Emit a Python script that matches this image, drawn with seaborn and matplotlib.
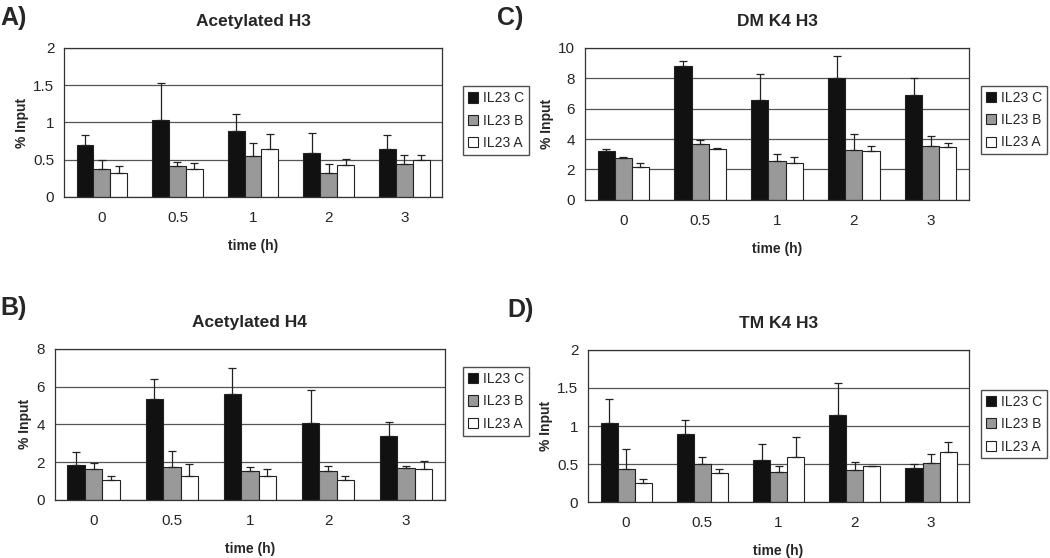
import numpy as np
import pandas as pd
import matplotlib
matplotlib.use('Agg')
import matplotlib.pyplot as plt
from matplotlib.patches import Patch
import seaborn as sns

times = ['0', '0.5', '1', '2', '3']
lines = ['IL23 C', 'IL23 B', 'IL23 A']

# mean values and top of the error bar, per cell line
h3ac_mean = {'IL23 C': [0.70, 1.03, 0.89, 0.59, 0.65],
             'IL23 B': [0.38, 0.41, 0.55, 0.32, 0.44],
             'IL23 A': [0.32, 0.37, 0.65, 0.43, 0.49]}
h3ac_top = {'IL23 C': [0.83, 1.53, 1.11, 0.86, 0.83],
            'IL23 B': [0.50, 0.47, 0.72, 0.44, 0.56],
            'IL23 A': [0.41, 0.46, 0.84, 0.51, 0.57]}

dmk4_mean = {'IL23 C': [3.20, 8.80, 6.55, 8.05, 6.90],
             'IL23 B': [2.75, 3.70, 2.55, 3.30, 3.55],
             'IL23 A': [2.15, 3.35, 2.40, 3.20, 3.50]}
dmk4_top = {'IL23 C': [3.35, 9.15, 8.30, 9.45, 8.00],
            'IL23 B': [2.82, 3.95, 3.00, 4.35, 4.20],
            'IL23 A': [2.40, 3.42, 2.85, 3.55, 3.75]}

h4ac_mean = {'IL23 C': [1.87, 5.35, 5.58, 4.06, 3.36],
             'IL23 B': [1.64, 1.77, 1.52, 1.52, 1.70],
             'IL23 A': [1.06, 1.28, 1.28, 1.05, 1.63]}
h4ac_top = {'IL23 C': [2.53, 6.41, 7.00, 5.81, 4.12],
            'IL23 B': [1.94, 2.58, 1.75, 1.82, 1.80],
            'IL23 A': [1.28, 1.88, 1.65, 1.28, 2.05]}

tmk4_mean = {'IL23 C': [1.04, 0.89, 0.55, 1.15, 0.45],
             'IL23 B': [0.44, 0.50, 0.39, 0.42, 0.51],
             'IL23 A': [0.25, 0.38, 0.59, 0.47, 0.66]}
tmk4_top = {'IL23 C': [1.36, 1.08, 0.76, 1.57, 0.50],
            'IL23 B': [0.70, 0.59, 0.47, 0.53, 0.63],
            'IL23 A': [0.31, 0.43, 0.85, 0.48, 0.79]}

colors = {'IL23 C': '#111111', 'IL23 B': '#999999', 'IL23 A': '#ffffff'}

sns.set_style('white')
plt.rcParams['font.family'] = ['Liberation Sans', 'DejaVu Sans']


def panel(fig, rect, mean, top, title, letter, ymax, ystep, yfmt, leg_xy, letter_xy):
    ax = fig.add_axes(rect)
    df = pd.DataFrame([(t, l, mean[l][i]) for l in lines for i, t in enumerate(times)],
                      columns=['time', 'line', 'value'])
    ax.set_axisbelow(True)
    sns.barplot(data=df, x='time', y='value', hue='line', order=times, hue_order=lines,
                palette=colors, edgecolor='#222222', linewidth=0.8, width=0.67,
                errorbar=None, ax=ax)
    for l, cont in zip(lines, ax.containers):
        xs = [b.get_x() + b.get_width() / 2 for b in cont]
        vals = np.array(mean[l])
        err = np.array(top[l]) - vals
        ax.errorbar(xs, vals, yerr=[np.zeros_like(err), err], fmt='none',
                    ecolor='#222222', elinewidth=0.9, capsize=3, capthick=0.9, zorder=4)
    ax.set_ylim(0, ymax)
    ax.set_xlim(-0.5, 4.5)
    yt = np.arange(0, ymax + ystep / 2, ystep)
    ax.set_yticks(yt)
    ax.set_yticklabels([yfmt(v) for v in yt])
    ax.yaxis.grid(True, color='#555555', linewidth=0.9)
    ax.set_xticks(np.arange(-0.5, 5, 1), minor=True)
    ax.tick_params(axis='x', which='major', length=0, labelsize=11, pad=10)
    ax.tick_params(axis='x', which='minor', length=4, width=0.8, color='#333333', direction='out')
    ax.tick_params(axis='y', length=4, width=0.8, color='#333333', direction='out', labelsize=11, pad=3)
    for s in ax.spines.values():
        s.set_color('#333333')
        s.set_linewidth(0.9)
    ax.set_xlabel('time (h)', fontsize=10, fontweight='bold', labelpad=10)
    ax.set_ylabel('% Input', fontsize=10, fontweight='bold', labelpad=3)
    ax.set_title(title, fontsize=12.5, fontweight='bold', pad=16)
    ax.legend_.remove()
    handles = [Patch(facecolor=colors[l], edgecolor='#222222', linewidth=0.8, label=l) for l in lines]
    fig.legend(handles=handles, loc='upper left', bbox_to_anchor=leg_xy, frameon=True,
               fancybox=False, edgecolor='#222222', fontsize=10, handlelength=0.75,
               handleheight=0.75, handletextpad=0.35, labelspacing=0.6, borderpad=0.35,
               borderaxespad=0)
    fig.text(letter_xy[0], letter_xy[1], letter, fontsize=18, fontweight='bold', va='center')
    return ax


fig = plt.figure(figsize=(10.5, 5.58), dpi=100)

half = lambda v: '0' if v == 0 else ('%g' % v)
whole = lambda v: '%d' % v

panel(fig, [0.061, 0.647, 0.360, 0.267], h3ac_mean, h3ac_top, 'Acetylated H3', 'A)',
      2, 0.5, half, (0.441, 0.845), (0.0, 0.968))
panel(fig, [0.557, 0.642, 0.366, 0.272], dmk4_mean, dmk4_top, 'DM K4 H3', 'C)',
      10, 2, whole, (0.934, 0.846), (0.473, 0.968))
panel(fig, [0.052, 0.104, 0.372, 0.271], h4ac_mean, h4ac_top, 'Acetylated H4', 'B)',
      8, 2, whole, (0.441, 0.342), (0.0, 0.448))
panel(fig, [0.560, 0.100, 0.363, 0.273], tmk4_mean, tmk4_top, 'TM K4 H3', 'D)',
      2, 0.5, half, (0.934, 0.301), (0.483, 0.445))

fig.savefig('out.png', dpi=100)
